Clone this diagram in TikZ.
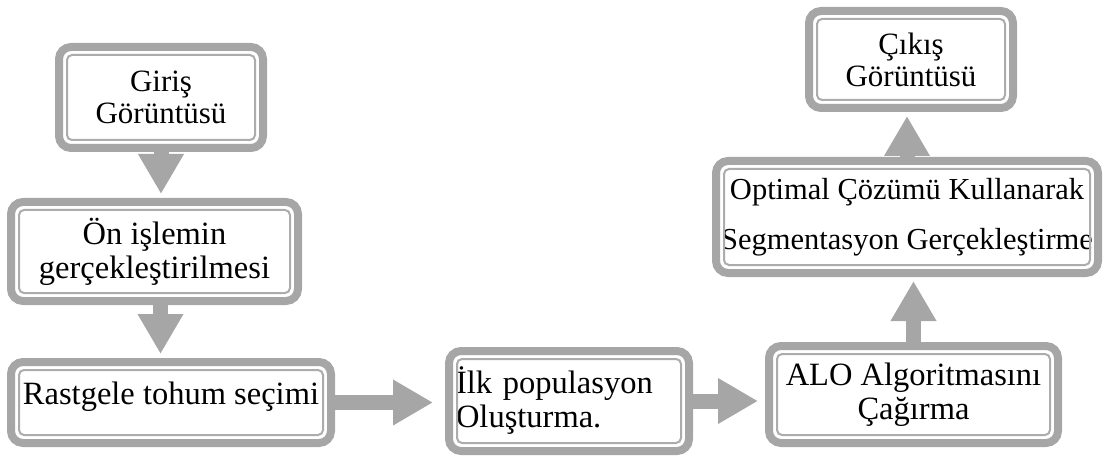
\documentclass[tikz,border=0pt]{standalone}
\usepackage{fontspec}
\setmainfont{Liberation Serif}
\usetikzlibrary{arrows.meta}
\definecolor{boxgray}{RGB}{166,166,166}
\definecolor{linegray}{RGB}{172,172,172}
\tikzset{
  stepbox/.style={draw=boxgray, line width=8pt, rounded corners=12pt, fill=white, inner sep=0pt, align=center},
  bigtext/.style={font=\fontsize{32.5}{34}\selectfont},
  smalltext/.style={font=\fontsize{31}{32}\selectfont},
  innerline/.style={draw=linegray, line width=2pt, rounded corners=5pt},
  flow/.style={boxgray, line width=15pt, -{Triangle[length=40pt,width=43pt]}}
}
\begin{document}
\begin{tikzpicture}[x=1pt,y=-1pt]
  \useasboundingbox (0,0) rectangle (1108,457);
  \node[stepbox, smalltext, minimum width=204pt, minimum height=101pt] (giris) at (161,97.5) {Giriş\\Görüntüsü};
  \node[stepbox, bigtext, minimum width=287pt, minimum height=99pt] (on) at (154.5,251.5) {Ön işlemin\\gerçekleştirilmesi};
  \node[stepbox, bigtext, text depth=19pt, minimum width=320pt, minimum height=81pt] (rast) at (171,402.5) {Rastgele tohum seçimi};
  \node[stepbox, bigtext, align=left, text width=226pt, minimum width=240pt, minimum height=100pt] (ilk) at (569,401) {İlk populasyon\\Oluşturma.};
  \node[stepbox, bigtext, minimum width=289pt, minimum height=97pt] (alo) at (913.5,394.5) {ALO Algoritmasını\\Çağırma};
  \node[stepbox, font=\fontsize{30.5}{50}\selectfont, minimum width=382pt, minimum height=112pt] (opt) at (907,217) {Optimal Çözümü Kullanarak\\Segmentasyon Gerçekleştirme};
  \node[stepbox, smalltext, minimum width=204pt, minimum height=97pt] (cikis) at (911,59.5) {Çıkış\\Görüntüsü};
  % thin inner frame of every box
  \foreach \n in {giris,on,rast,ilk,alo,opt,cikis}
    \draw[innerline] ([xshift=12pt,yshift=-12pt]\n.north west) rectangle ([xshift=-12pt,yshift=12pt]\n.south east);
  \draw[flow, shorten >=4pt] (giris.south) -- (giris.south |- on.north);
  \draw[flow, shorten >=4pt] ([xshift=6pt]on.south) -- ([xshift=6pt]on.south |- rast.north);
  \draw[flow, shorten >=12pt] (rast.east) -- (rast.east -| ilk.west);
  \draw[flow, shorten >=7pt] (ilk.east) -- (ilk.east -| alo.west);
  \draw[flow, shorten >=4pt] (alo.north) -- (alo.north |- opt.south);
  \draw[flow, shorten >=4pt] (opt.north) -- (opt.north |- cikis.south);
\end{tikzpicture}
\end{document}
